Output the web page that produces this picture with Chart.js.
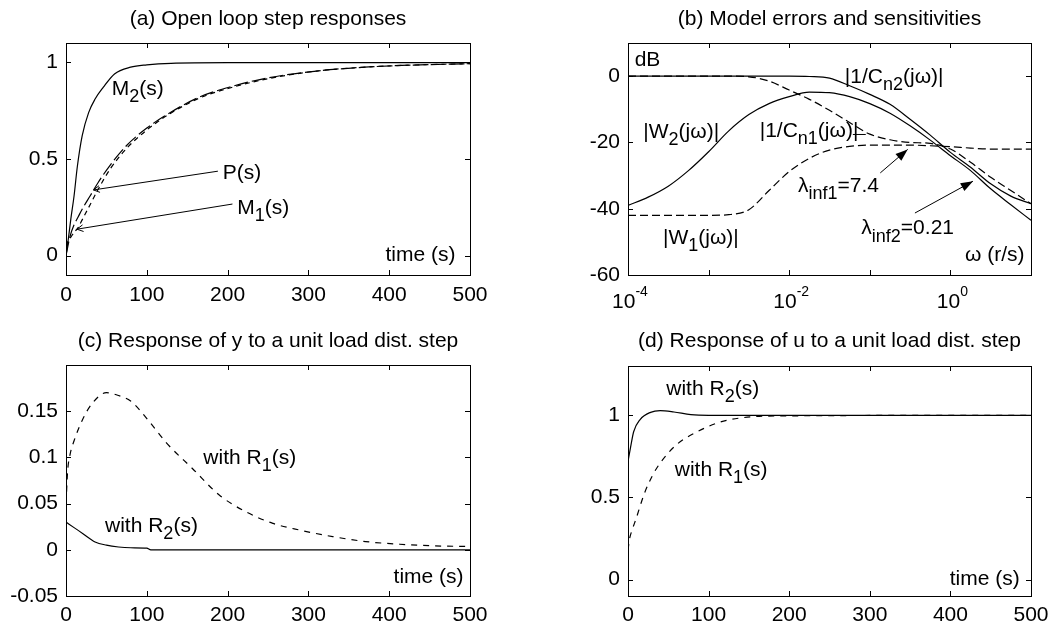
<!DOCTYPE html>
<html>
<head>
<meta charset="UTF-8">
<script src="https://cdn.jsdelivr.net/npm/chart.js@4.4.0/dist/chart.umd.min.js"></script>
<style>
  body { margin: 0; background: #fff; }
  .wrap { position: relative; width: 1058px; height: 632px; }
  .panel { position: absolute; width: 529px; height: 316px; }
</style>
</head>
<body>
<div class="wrap">
  <div class="panel" style="left:0;top:0"><canvas id="pa" width="529" height="316"></canvas></div>
  <div class="panel" style="left:529px;top:0"><canvas id="pb" width="529" height="316"></canvas></div>
  <div class="panel" style="left:0;top:316px"><canvas id="pc" width="529" height="316"></canvas></div>
  <div class="panel" style="left:529px;top:316px"><canvas id="pd" width="529" height="316"></canvas></div>
</div>
<script>
// (a) open loop step responses
const aTimeM2 = [0, 3, 6, 10, 14, 20, 28, 36, 46, 60, 80, 100, 130, 200, 300, 400, 500];
const aM2     = [0, 0.09, 0.19, 0.31, 0.46, 0.62, 0.74, 0.81, 0.87, 0.94, 0.975, 0.987, 0.995, 0.998, 0.998, 0.998, 0.998];
const aTimeP  = [0, 5, 10, 15, 20, 30, 40, 55, 75, 100, 125, 165, 205, 250, 310, 370, 430, 500];
const aP      = [0, 0.1, 0.16, 0.2, 0.24, 0.31, 0.38, 0.47, 0.57, 0.66, 0.73, 0.82, 0.875, 0.92, 0.955, 0.975, 0.986, 0.993];
const aTimeM1 = [0, 2, 5, 10, 15, 20, 30, 40, 55, 75, 100, 125, 165, 205, 250, 310, 370, 430, 500];
const aM1     = [0.05, 0.07, 0.09, 0.12, 0.145, 0.185, 0.265, 0.345, 0.45, 0.555, 0.65, 0.725, 0.815, 0.87, 0.915, 0.955, 0.975, 0.986, 0.993];
const aXTicks = [0, 100, 200, 300, 400, 500];
const aYTicks = [0, 0.5, 1];

// (b) model errors and sensitivities (dB)
const bFreq = [1e-4, 1.78e-4, 3.16e-4, 5.62e-4, 1e-3, 1.78e-3, 3.16e-3, 5.62e-3, 1e-2, 1.78e-2, 3.16e-2,
               5.62e-2, 0.1, 0.178, 0.316, 0.562, 1, 1.78, 3.16, 5.62, 10];
const bCn2 = [0, 0, 0, 0, 0, 0, 0, 0, 0, -0.1, -0.6, -2.9, -5.5, -8.5, -13, -17.8, -23, -27.5, -32.5, -36.2, -38.5];
const bW2  = [-39, -36.5, -33.2, -28.5, -22.8, -16.5, -11.6, -8.3, -6.2, -4.8, -5.0, -6.2, -8.3, -11.2, -15, -19.3, -24, -28.5, -34, -38.8, -43.5];
const bCn1 = [0, 0, 0, 0, 0, 0, -0.2, -1.5, -4.2, -7, -10.3, -14, -17.5, -19.2, -20, -20.3, -22, -26, -30.5, -34.5, -38.5];
const bW1  = [-42, -42, -42, -42, -42, -41.8, -40.3, -34.5, -28.8, -24.8, -22.3, -21.2, -20.8, -20.8, -20.8, -21, -21.3, -21.7, -22, -22, -22];
const bXTicks = [1e-4, 1e-3, 1e-2, 1e-1, 1, 10];
const bYTicks = [-60, -40, -20, 0];

// (c) response of y to a unit load disturbance step
const cTimeR1 = [0, 2, 5, 10, 20, 32, 50, 65, 80, 102, 124, 157, 190, 223, 256, 289, 330, 371, 413, 454, 500];
const cR1     = [0.05, 0.085, 0.103, 0.118, 0.14, 0.158, 0.17, 0.167, 0.161, 0.14, 0.116, 0.0875, 0.059, 0.041, 0.0286, 0.0214, 0.0143, 0.0089, 0.006, 0.0043, 0.0036];
const cTimeR2 = [0, 10, 21, 36, 50, 65, 80, 100, 105, 500];
const cR2     = [0.03, 0.024, 0.0175, 0.0085, 0.005, 0.003, 0.0022, 0.0018, 0, 0];
const cYTicks = [-0.05, 0, 0.05, 0.1, 0.15];

// (d) response of u to a unit load disturbance step
const dTimeR2 = [0, 3, 7, 15, 28, 40, 57, 78, 100, 500];
const dR2     = [0.72, 0.8, 0.9, 0.974, 1.018, 1.028, 1.02, 1.004, 1.0, 1.0];
const dTimeR1 = [0, 2, 5, 10, 20, 30, 40, 60, 86, 115, 140, 182, 500];
const dR1     = [0.18, 0.25, 0.3, 0.37, 0.52, 0.63, 0.71, 0.82, 0.9, 0.96, 0.984, 0.996, 1.0];
const dYTicks = [0, 0.5, 1];

const FONT = '"Liberation Sans", Arial, sans-serif';
Chart.defaults.font.family = FONT;
Chart.defaults.font.size = 21;
Chart.defaults.color = '#000';

function pts(xs, ys) { return xs.map((x, i) => ({ x: x, y: ys[i] })); }

function line(xs, ys, dash) {
  return {
    data: pts(xs, ys), borderColor: '#000', borderWidth: 1.2, borderDash: dash || [],
    pointRadius: 0, fill: false, cubicInterpolationMode: 'monotone'
  };
}

// text with _{sub} and ^{sup}
function drawRich(ctx, str, x, y, align, size) {
  const parts = [];
  const re = /([_^])\{([^}]*)\}|([^_^]+)/g;
  let m;
  while ((m = re.exec(str))) {
    if (m[3]) parts.push({ t: m[3], s: size, dy: 0 });
    else if (m[1] === '_') parts.push({ t: m[2], s: Math.round(size * 0.85), dy: size * 0.38 });
    else parts.push({ t: m[2], s: Math.round(size * 0.65), dy: -size * 0.4 });
  }
  let w = 0;
  parts.forEach(p => { ctx.font = p.s + 'px ' + FONT; p.w = ctx.measureText(p.t).width; w += p.w; });
  let cx = align === 'right' ? x - w : align === 'center' ? x - w / 2 : x;
  ctx.textAlign = 'left';
  ctx.textBaseline = 'middle';
  parts.forEach(p => { ctx.font = p.s + 'px ' + FONT; ctx.fillText(p.t, cx, y + p.dy); cx += p.w; });
  return w;
}

// matlab style box with inward ticks, title, notes and arrows
const boxPlugin = {
  id: 'box',
  afterDatasetsDraw(chart, args, opts) {
    const { ctx, chartArea: a, scales } = chart;
    ctx.save();
    ctx.strokeStyle = '#000';
    ctx.fillStyle = '#000';
    ctx.lineWidth = 1;
    ctx.strokeRect(a.left + 0.5, a.top + 0.5, a.right - a.left, a.bottom - a.top);
    ctx.beginPath();
    scales.x.ticks.forEach(t => {
      const px = Math.round(scales.x.getPixelForValue(t.value)) + 0.5;
      ctx.moveTo(px, a.bottom); ctx.lineTo(px, a.bottom - 5);
      ctx.moveTo(px, a.top); ctx.lineTo(px, a.top + 5);
    });
    scales.y.ticks.forEach(t => {
      const py = Math.round(scales.y.getPixelForValue(t.value)) + 0.5;
      ctx.moveTo(a.left, py); ctx.lineTo(a.left + 5, py);
      ctx.moveTo(a.right, py); ctx.lineTo(a.right - 5, py);
    });
    ctx.stroke();

    // title centred over the axes box
    ctx.font = '21px ' + FONT;
    ctx.textAlign = 'center';
    ctx.textBaseline = 'middle';
    ctx.fillText(opts.title, (a.left + a.right) / 2, opts.titleY);

    const X = v => scales.x.getPixelForValue(v);
    const Y = v => scales.y.getPixelForValue(v);
    (opts.lines || []).forEach(l => {
      const x1 = X(l.x1), y1 = Y(l.y1), x2 = X(l.x2), y2 = Y(l.y2);
      ctx.beginPath(); ctx.moveTo(x1, y1); ctx.lineTo(x2, y2); ctx.stroke();
      if (l.head) {
        // open head sits at the start, filled head at the end
        const tipX = l.head === 'open' ? x1 : x2, tipY = l.head === 'open' ? y1 : y2;
        const ang = l.head === 'open' ? Math.atan2(y2 - y1, x2 - x1) : Math.atan2(y1 - y2, x1 - x2);
        const len = l.head === 'open' ? 7 : 13, wd = l.head === 'open' ? 0.5 : 0.35;
        const p1 = [tipX + len * Math.cos(ang + wd), tipY + len * Math.sin(ang + wd)];
        const p2 = [tipX + len * Math.cos(ang - wd), tipY + len * Math.sin(ang - wd)];
        ctx.beginPath();
        ctx.moveTo(p1[0], p1[1]); ctx.lineTo(tipX, tipY); ctx.lineTo(p2[0], p2[1]);
        if (l.head === 'open') ctx.stroke(); else { ctx.closePath(); ctx.fill(); }
      }
    });
    (opts.texts || []).forEach(t => drawRich(ctx, t.s, X(t.x), Y(t.y), t.align || 'left', 21));

    if (opts.powerLabels) {
      scales.x.ticks.forEach(t => {
        const e = Math.round(Math.log10(t.value));
        if (e % 2 !== 0) return;
        const px = X(t.value);
        ctx.font = '21px ' + FONT;
        const w1 = ctx.measureText('10').width;
        ctx.font = '14px ' + FONT;
        const w2 = ctx.measureText(String(e)).width;
        const x0 = px - (w1 + w2) / 2 + 2;
        ctx.textAlign = 'left'; ctx.textBaseline = 'middle';
        ctx.font = '21px ' + FONT;
        ctx.fillText('10', x0, a.bottom + 27);
        ctx.font = '14px ' + FONT;
        ctx.fillText(String(e), x0 + w1, a.bottom + 17);
      });
    }
    ctx.restore();
  }
};

function makeChart(id, o) {
  o.notes.title = o.title;
  o.notes.titleY = o.titleY;
  return new Chart(document.getElementById(id), {
    type: 'line',
    data: { datasets: o.datasets },
    plugins: [boxPlugin],
    options: {
      responsive: false,
      animation: false,
      layout: { padding: { left: 0, right: o.right, top: o.top, bottom: 0 } },
      plugins: {
        legend: { display: false },
        tooltip: { enabled: false },
        title: { display: false },
        box: o.notes
      },
      scales: {
        x: {
          type: o.xType || 'linear', min: o.xMin, max: o.xMax,
          grid: { display: false, drawTicks: false }, border: { display: false },
          afterBuildTicks: s => { s.ticks = o.xTicks.map(v => ({ value: v })); },
          afterFit: s => { s.height = o.xHeight; },
          ticks: { display: !o.notes.powerLabels, padding: o.xPad, maxRotation: 0, callback: v => String(v) }
        },
        y: {
          type: 'linear', min: o.yMin, max: o.yMax,
          grid: { display: false, drawTicks: false }, border: { display: false },
          afterBuildTicks: s => { s.ticks = o.yTicks.map(v => ({ value: v })); },
          afterFit: s => { s.width = o.yWidth; },
          ticks: { padding: 8, callback: v => String(v) }
        }
      }
    }
  });
}

makeChart('pa', {
  title: '(a) Open loop step responses', titleY: 19, top: 43,
  right: 59, yWidth: 66, xHeight: 41, xPad: 8,
  xMin: 0, xMax: 500, yMin: -0.1, yMax: 1.1, xTicks: aXTicks, yTicks: aYTicks,
  datasets: [line(aTimeP, aP, [14, 4]), line(aTimeM1, aM1, [5, 4]), line(aTimeM2, aM2)],
  notes: {
    texts: [
      { x: 56.5, y: 0.86, s: 'M_{2}(s)' },
      { x: 194, y: 0.426, s: 'P(s)' },
      { x: 212, y: 0.246, s: 'M_{1}(s)' },
      { x: 482, y: 0, s: 'time (s)', align: 'right' }
    ],
    lines: [
      { x1: 34, y1: 0.34, x2: 188, y2: 0.437, head: 'open' },
      { x1: 13.6, y1: 0.137, x2: 206, y2: 0.267, head: 'open' }
    ]
  }
});

makeChart('pb', {
  title: '(b) Model errors and sensitivities', titleY: 19, top: 43,
  right: 27, yWidth: 99, xHeight: 41, xPad: 8, xType: 'logarithmic',
  xMin: 1e-4, xMax: 10, yMin: -60, yMax: 10, xTicks: bXTicks, yTicks: bYTicks,
  datasets: [
    line(bFreq, bW1, [8, 4]), line(bFreq, bCn1, [8, 4]),
    line(bFreq, bW2), line(bFreq, bCn2)
  ],
  notes: {
    powerLabels: true,
    texts: [
      { x: 10 ** -3.917, y: 4.8, s: 'dB' },
      { x: 10 ** -1.31, y: -0.3, s: '|1/C_{n2}(jω)|' },
      { x: 10 ** -3.81, y: -17, s: '|W_{2}(jω)|' },
      { x: 10 ** -2.366, y: -16.7, s: '|1/C_{n1}(jω)|' },
      { x: 10 ** -1.89, y: -33.3, s: 'λ_{inf1}=7.4' },
      { x: 10 ** -3.566, y: -48.8, s: '|W_{1}(jω)|' },
      { x: 10 ** -1.105, y: -46, s: 'λ_{inf2}=0.21' },
      { x: 10 ** 0.92, y: -54, s: 'ω (r/s)', align: 'right' }
    ],
    lines: [
      { x1: 10 ** -1.21, y1: -17.6, x2: 10 ** -1.05, y2: -17.6 },
      { x1: 10 ** -0.87, y1: -29.2, x2: 10 ** -0.53, y2: -22.1, head: 'fill' },
      { x1: 10 ** -0.44, y1: -41.3, x2: 10 ** 0.28, y2: -31.7, head: 'fill' }
    ]
  }
});

makeChart('pc', {
  title: '(c) Response of y to a unit load dist. step', titleY: 25, top: 49,
  right: 59, yWidth: 66, xHeight: 36, xPad: 7,
  xMin: 0, xMax: 500, yMin: -0.05, yMax: 0.2, xTicks: aXTicks, yTicks: cYTicks,
  datasets: [line(cTimeR1, cR1, [6, 6]), line(cTimeR2, cR2)],
  notes: {
    texts: [
      { x: 170, y: 0.099, s: 'with R_{1}(s)' },
      { x: 48.3, y: 0.0257, s: 'with R_{2}(s)' },
      { x: 492, y: -0.03, s: 'time (s)', align: 'right' }
    ]
  }
});

makeChart('pd', {
  title: '(d) Response of u to a unit load dist. step', titleY: 25, top: 50,
  right: 27, yWidth: 99, xHeight: 36, xPad: 7,
  xMin: 0, xMax: 500, yMin: -0.1, yMax: 1.3, xTicks: aXTicks, yTicks: dYTicks,
  datasets: [line(dTimeR1, dR1, [6, 6]), line(dTimeR2, dR2)],
  notes: {
    texts: [
      { x: 47.5, y: 1.158, s: 'with R_{2}(s)' },
      { x: 58, y: 0.667, s: 'with R_{1}(s)' },
      { x: 486, y: 0, s: 'time (s)', align: 'right' }
    ]
  }
});
</script>
</body>
</html>
